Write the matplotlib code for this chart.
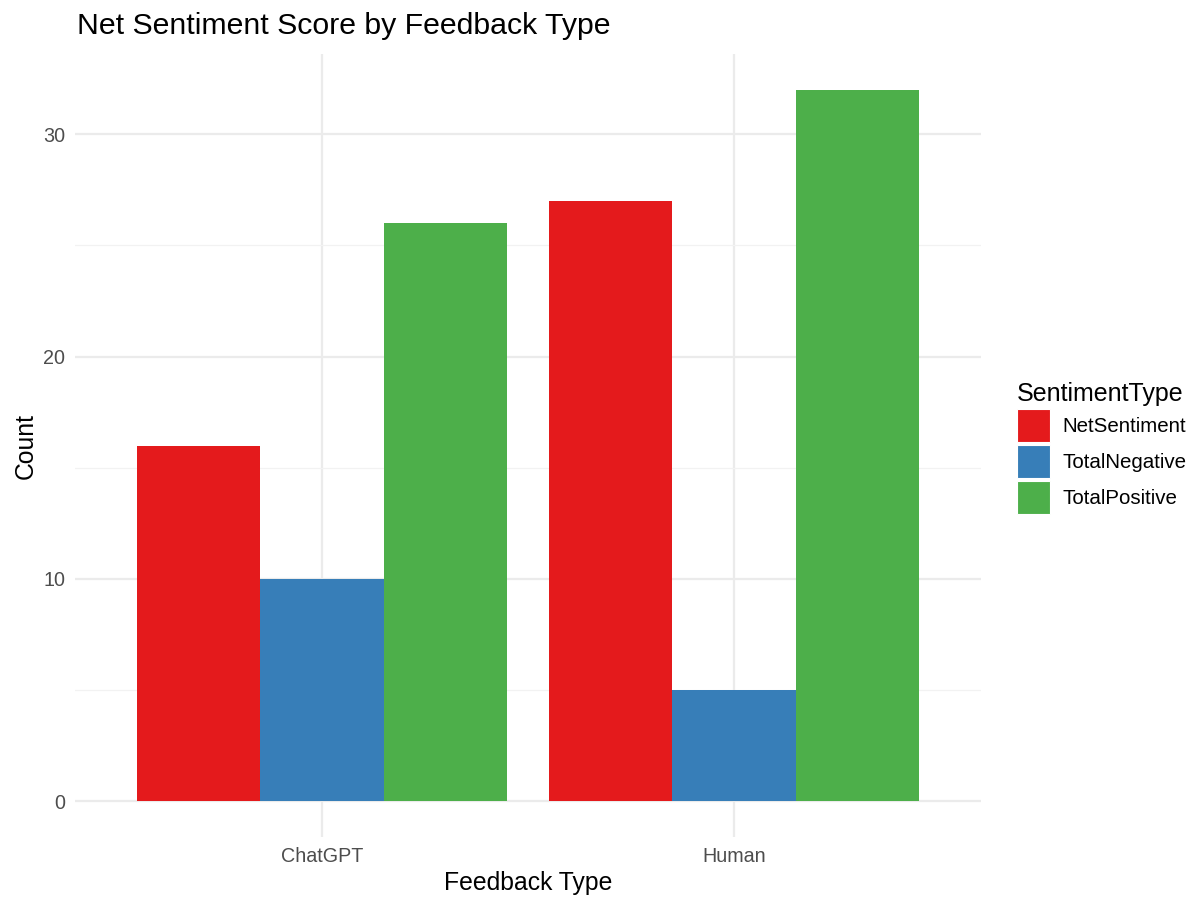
import matplotlib
matplotlib.use("Agg")
import matplotlib.pyplot as plt
from matplotlib.patches import Patch
import numpy as np

plt.rcParams['font.family'] = ['Liberation Sans', 'DejaVu Sans']

categories = ["ChatGPT", "Human"]
series_names = ["NetSentiment", "TotalNegative", "TotalPositive"]
net_sentiment = [16, 27]
total_negative = [10, 5]
total_positive = [26, 32]
colors = ["#E41A1C", "#377EB8", "#4DAF4A"]

values = [net_sentiment, total_negative, total_positive]

fig = plt.figure(figsize=(12, 9.1), dpi=100)
ax = fig.add_axes([0.0625, 0.0802, 0.755, 0.8604])

x = np.arange(1, len(categories) + 1)
bw = 0.3
for i, (name, vals, c) in enumerate(zip(series_names, values, colors)):
    ax.bar(x + (i - 1) * bw, vals, width=bw, color=c, label=name, zorder=3, linewidth=0)

ymax = max(max(v) for v in values)
ax.set_xlim(0.4, len(categories) + 0.6)
ax.set_ylim(-0.05 * ymax, ymax * 1.05)
ax.set_xticks(x)
ax.set_xticklabels(categories)
ax.set_yticks([0, 10, 20, 30])
ax.set_yticks([5, 15, 25], minor=True)

ax.grid(True, which='major', color='#EBEBEB', linewidth=1.6, zorder=0)
ax.grid(True, which='minor', axis='y', color='#F2F2F2', linewidth=0.9, zorder=0)
for s in ax.spines.values():
    s.set_visible(False)
ax.tick_params(which='both', length=0, labelsize=14.2, colors='#4D4D4D', pad=7)

ax.set_xlabel("Feedback Type", fontsize=17.8, color='black', labelpad=4)
ax.set_ylabel("Count", fontsize=17.8, color='black', labelpad=4)
fig.text(77/1200, 1 - 26/910, "Net Sentiment Score by Feedback Type", fontsize=21.8,
         ha='left', va='center')

handles = [Patch(facecolor=c, edgecolor='white', linewidth=0.8) for c in colors]
leg = fig.legend(handles, series_names, loc='center left',
                 bbox_to_anchor=(1017/1200, 1 - 448/910), frameon=False,
                 title="SentimentType", title_fontsize=18, fontsize=14.8,
                 handlelength=1.6, handleheight=2.1, labelspacing=0.15,
                 handletextpad=0.6, borderaxespad=0, borderpad=0, alignment='left')
leg._legend_handle_box.sep = 8

fig.savefig("out.png", dpi=100)
